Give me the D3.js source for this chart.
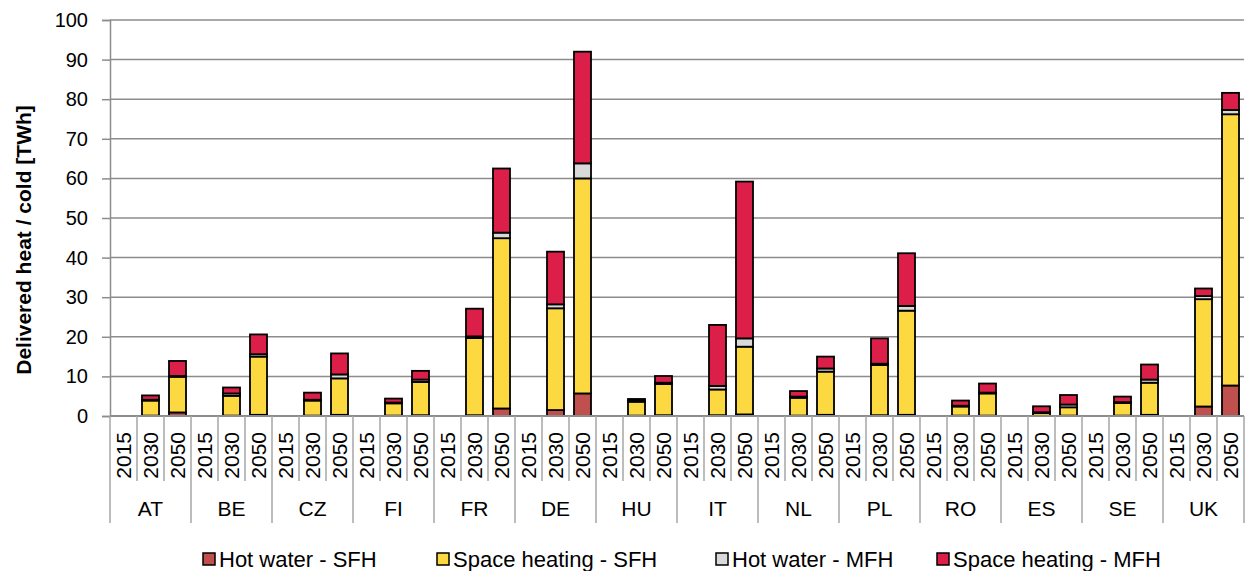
<!DOCTYPE html>
<html>
<head>
<meta charset="utf-8">
<script src="https://cdn.jsdelivr.net/npm/d3@7"></script>
<style>
  html, body { margin: 0; padding: 0; background: #fff; }
  svg { display: block; font-family: "Liberation Sans", Arial, sans-serif; }
</style>
</head>
<body>
<svg id="chart" width="1246" height="571"></svg>
<script>
// Countries and scenario years on the category axis
const countries = ["AT", "BE", "CZ", "FI", "FR", "DE", "HU", "IT", "NL", "PL", "RO", "ES", "SE", "UK"];
const years = ["2015", "2030", "2050"];
const yTicks = [0, 10, 20, 30, 40, 50, 60, 70, 80, 90, 100];

// Delivered heat / cold in TWh, one [2015, 2030, 2050] triplet per country
const hotWaterSFH = [
  [0, 0.1, 0.9], [0, 0.1, 0.3], [0, 0.1, 0.3], [0, 0.1, 0.2], [0, 0.2, 1.9],
  [0, 1.5, 5.7], [0, 0.1, 0.2], [0, 0.2, 0.4], [0, 0.1, 0.3], [0, 0.2, 0.3],
  [0, 0.1, 0.1], [0, 0.05, 0.1], [0, 0.1, 0.3], [0, 2.4, 7.7]
];
const spaceHeatingSFH = [
  [0, 3.8, 9.0], [0, 5.0, 14.7], [0, 3.8, 9.2], [0, 3.1, 8.4], [0, 19.5, 43.0],
  [0, 25.7, 54.3], [0, 3.5, 7.9], [0, 6.5, 17.1], [0, 4.5, 10.9], [0, 12.7, 26.3],
  [0, 2.3, 5.6], [0, 0.7, 2.1], [0, 3.2, 8.1], [0, 27.1, 68.5]
];
const hotWaterMFH = [
  [0, 0.2, 0.2], [0, 0.6, 0.6], [0, 0.2, 1.0], [0, 0.2, 0.6], [0, 0.4, 1.4],
  [0, 1.0, 3.8], [0, 0.3, 0.3], [0, 0.9, 2.1], [0, 0.3, 0.8], [0, 0.3, 1.2],
  [0, 0.2, 0.2], [0, 0.2, 0.7], [0, 0.2, 0.8], [0, 0.8, 1.1]
];
const spaceHeatingMFH = [
  [0, 1.1, 3.8], [0, 1.5, 5.0], [0, 1.8, 5.3], [0, 1.0, 2.2], [0, 7.0, 16.2],
  [0, 13.3, 28.2], [0, 0.4, 1.7], [0, 15.4, 39.6], [0, 1.4, 3.0], [0, 6.4, 13.3],
  [0, 1.3, 2.3], [0, 1.5, 2.4], [0, 1.4, 3.8], [0, 1.9, 4.3]
];

const seriesNames = ["Hot water - SFH", "Space heating - SFH", "Hot water - MFH", "Space heating - MFH"];
const seriesColors = ["#C0504D", "#FCD940", "#D9D9D9", "#DC1F48"];
const seriesValues = [hotWaterSFH, spaceHeatingSFH, hotWaterMFH, spaceHeatingMFH];

// Flat table: one row per country/year slot
const rows = [];
countries.forEach((c, ci) => {
  years.forEach((yr, yi) => {
    const row = { key: c + "-" + yr, country: c, year: yr };
    seriesNames.forEach((s, si) => { row[s] = seriesValues[si][ci][yi]; });
    rows.push(row);
  });
});

const svg = d3.select("#chart");
const plotLeft = 110, plotRight = 1244, plotTop = 20, plotBottom = 416;

const x = d3.scaleBand()
  .domain(rows.map(r => r.key))
  .range([plotLeft, plotRight])
  .paddingInner(0.37)
  .paddingOuter(0.185);
const step = x.step();

const y = d3.scaleLinear().domain([0, 100]).range([plotBottom, plotTop]);

const gridColor = "#8c8c8c";

// Horizontal gridlines
svg.append("g")
  .selectAll("line")
  .data(yTicks.filter(t => t > 0))
  .join("line")
  .attr("x1", plotLeft).attr("x2", plotRight)
  .attr("y1", d => y(d)).attr("y2", d => y(d))
  .attr("stroke", gridColor).attr("stroke-width", 1.5);

// Left value axis
const yAxis = svg.append("g")
  .attr("transform", `translate(${plotLeft},0)`)
  .call(d3.axisLeft(y).tickValues(yTicks).tickSize(8).tickPadding(14));
yAxis.select(".domain").attr("stroke", gridColor).attr("stroke-width", 1.5);
yAxis.selectAll(".tick line").attr("stroke", gridColor).attr("stroke-width", 1.5);
yAxis.selectAll(".tick text")
  .attr("font-size", 20).attr("fill", "#000")
  .attr("font-family", "Liberation Sans, Arial, sans-serif");

// Stacked bars
const stacked = d3.stack().keys(seriesNames)(rows);

svg.append("g")
  .selectAll("g")
  .data(stacked)
  .join("g")
  .attr("fill", (d, i) => seriesColors[i])
  .selectAll("rect")
  .data(d => d.filter(p => p[1] - p[0] > 0))
  .join("rect")
  .attr("x", d => x(d.data.key))
  .attr("width", x.bandwidth())
  .attr("y", d => y(d[1]))
  .attr("height", d => y(d[0]) - y(d[1]))
  .attr("stroke", "#000")
  .attr("stroke-width", 1.8);

// Category axis: baseline, year dividers and country dividers
const axisG = svg.append("g");
axisG.append("line")
  .attr("x1", plotLeft).attr("x2", plotRight)
  .attr("y1", plotBottom).attr("y2", plotBottom)
  .attr("stroke", gridColor).attr("stroke-width", 2);

const boundaries = d3.range(rows.length + 1);
axisG.selectAll("line.div")
  .data(boundaries)
  .join("line")
  .attr("class", "div")
  .attr("x1", i => plotLeft + i * step).attr("x2", i => plotLeft + i * step)
  .attr("y1", plotBottom)
  .attr("y2", i => (i % years.length === 0) ? 523 : 481)
  .attr("stroke", "#a6a6a6").attr("stroke-width", 1.5);

// Rotated year labels
axisG.selectAll("text.year")
  .data(rows)
  .join("text")
  .attr("class", "year")
  .attr("transform", d => `translate(${x(d.key) + x.bandwidth() / 2},432) rotate(-90)`)
  .attr("text-anchor", "end")
  .attr("dominant-baseline", "central")
  .attr("font-size", 21)
  .attr("fill", "#000")
  .text(d => d.year);

// Country labels
axisG.selectAll("text.country")
  .data(countries)
  .join("text")
  .attr("class", "country")
  .attr("x", (c, i) => plotLeft + (i * years.length + years.length / 2) * step)
  .attr("y", 508)
  .attr("text-anchor", "middle")
  .attr("dominant-baseline", "central")
  .attr("font-size", 21)
  .attr("fill", "#000")
  .text(c => c);

// Value axis title
svg.append("text")
  .attr("transform", "translate(23,240) rotate(-90)")
  .attr("text-anchor", "middle")
  .attr("dominant-baseline", "central")
  .attr("font-size", 21)
  .attr("font-weight", "bold")
  .attr("fill", "#000")
  .text("Delivered heat / cold [TWh]");

// Legend
const legendX = [203, 437, 716, 937];
const legend = svg.append("g")
  .selectAll("g")
  .data(seriesNames)
  .join("g")
  .attr("transform", (d, i) => `translate(${legendX[i]},559)`);
legend.append("rect")
  .attr("x", 0).attr("y", -6)
  .attr("width", 12).attr("height", 12)
  .attr("fill", (d, i) => seriesColors[i])
  .attr("stroke", "#000").attr("stroke-width", 1.5);
legend.append("text")
  .attr("x", 16)
  .attr("dominant-baseline", "central")
  .attr("font-size", 22)
  .attr("fill", "#000")
  .text(d => d);
</script>
</body>
</html>
